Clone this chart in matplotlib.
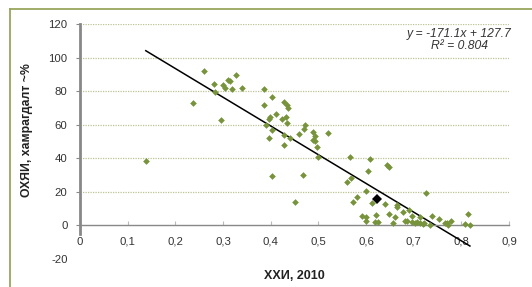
import matplotlib
matplotlib.use("Agg")
import matplotlib.pyplot as plt
import numpy as np
from matplotlib.lines import Line2D

plt.rcParams['font.family'] = ['Liberation Sans', 'DejaVu Sans']

# ---- data ----
hdi = [0.138, 0.238, 0.261, 0.281, 0.284, 0.295, 0.299, 0.305, 0.310, 0.314,
       0.318, 0.328, 0.340, 0.386, 0.385, 0.390, 0.403, 0.396, 0.399, 0.428,
       0.435, 0.436, 0.412, 0.423, 0.432, 0.434, 0.403, 0.397, 0.428, 0.440,
       0.428, 0.460, 0.471, 0.470, 0.489, 0.494, 0.489, 0.492, 0.497, 0.499,
       0.520, 0.402, 0.468, 0.451, 0.567, 0.608, 0.644, 0.649, 0.568, 0.561,
       0.605, 0.601, 0.582, 0.573, 0.612, 0.640, 0.665, 0.666, 0.690, 0.678,
       0.725, 0.648, 0.660, 0.621, 0.591, 0.600, 0.600, 0.619, 0.626, 0.656,
       0.682, 0.686, 0.697, 0.697, 0.702, 0.706, 0.714, 0.714, 0.719, 0.722,
       0.738, 0.735, 0.753, 0.766, 0.770, 0.771, 0.778, 0.815, 0.808, 0.818]
coverage = [38.1, 72.8, 92.1, 84.1, 79.4, 62.7, 83.5, 82.0, 86.7, 85.9,
            81.0, 89.5, 82.0, 81.0, 71.8, 59.9, 76.8, 63.5, 64.5, 73.5,
            71.5, 70.0, 66.5, 63.2, 64.5, 61.3, 57.0, 51.9, 54.0, 52.0,
            47.7, 54.3, 60.1, 57.3, 55.4, 53.4, 51.0, 50.4, 47.0, 40.8,
            54.9, 29.2, 29.9, 13.9, 40.6, 39.4, 35.9, 34.9, 28.4, 25.6,
            32.3, 20.4, 16.9, 14.1, 13.3, 12.5, 11.9, 10.7, 9.1, 8.2,
            19.6, 7.1, 5.2, 6.1, 5.5, 4.8, 2.8, 2.0, 2.0, 1.4,
            2.6, 2.6, 5.5, 1.8, 1.2, 1.8, 5.0, 1.2, 0.6, 1.2,
            5.5, 0.2, 3.8, 1.6, 1.2, 0.2, 2.8, 7.1, 0.8, 0.4]
highlight_x = [0.624]
highlight_y = [15.7]

slope = -171.1
intercept = 127.7
r2 = 0.804

x_ticks = [0, 0.1, 0.2, 0.3, 0.4, 0.5, 0.6, 0.7, 0.8, 0.9]
x_tick_labels = ['0', '0,1', '0,2', '0,3', '0,4', '0,5', '0,6', '0,7', '0,8', '0,9']
y_ticks = [-20, 0, 20, 40, 60, 80, 100, 120]
y_tick_labels = ['-20', '0', '20', '40', '60', '80', '100', '120']

x_label = 'ХХИ, 2010'
y_label = 'ОХЯИ, хамрагдалт ~%'

# ---- figure ----
W, H = 532, 287
fig = plt.figure(figsize=(W / 100, H / 100), dpi=100)
fig.patch.set_facecolor('white')

ax = fig.add_axes([80 / W, 1 - 259 / H, (509 - 80) / W, (259 - 24) / H])
ax.set_facecolor('none')
ax.set_xlim(0, 0.9)
ax.set_ylim(-20, 120)

# grid lines (dotted)
grid_levels = [v for v in y_ticks if v > 0]
ax.hlines(grid_levels, 0, 0.9, colors='#bcc494', linestyles=(0, (1, 1)), linewidth=0.9, zorder=1)

# scatter
ax.plot(hdi, coverage, linestyle='none', marker='D', markersize=3.4,
        color='#77933C', markeredgewidth=0, zorder=3)
ax.plot(highlight_x, highlight_y, linestyle='none', marker='D', markersize=5.5,
        color='black', markeredgewidth=0, zorder=4)

# trendline
xl = np.array([min(hdi), max(hdi)])
ax.plot(xl, slope * xl + intercept, color='black', linewidth=1.1, zorder=2)

# spines
for s in ['top', 'right']:
    ax.spines[s].set_visible(False)
ax.spines['bottom'].set_position(('data', 0))
ax.spines['bottom'].set_color('#888888')
ax.spines['bottom'].set_linewidth(1.0)
ax.spines['left'].set_color('#888888')
ax.spines['left'].set_linewidth(2.0)
ax.spines['left'].set_bounds(-5, 120)

ax.set_xticks(x_ticks)
ax.set_xticklabels(x_tick_labels)
ax.set_yticks(y_ticks)
ax.set_yticklabels(y_tick_labels)
ax.tick_params(axis='x', direction='in', length=3, width=0.8, color='#bbbbbb',
               pad=8, labelsize=8.2, labelcolor='#333333')
ax.tick_params(axis='y', direction='out', length=3, width=0.8, color='#888888',
               pad=6, labelsize=8.2, labelcolor='#333333')
ax.yaxis.get_major_ticks()[0].tick1line.set_visible(False)

# equation text
ax.text(459.5 / W, 1 - 40 / H, 'y = -171.1x + 127.7\nR² = 0.804', transform=fig.transFigure,
        ha='center', va='center', fontsize=8.7, style='italic', color='#333333',
        linespacing=1.1)

# axis labels
fig.text(294.5 / W, 1 - 276 / H, x_label, ha='center', va='center',
         fontsize=9, fontweight='bold', color='#222222')
fig.text(27 / W, 1 - 130 / H, y_label, ha='center', va='center', rotation=90,
         fontsize=8.8, fontweight='bold', color='#222222')

# outer chart border (left and top visible)
border_color = '#98a65c'
fig.add_artist(Line2D([9.5 / W, 9.5 / W], [0, 1 - 8.5 / H], transform=fig.transFigure,
                      color=border_color, linewidth=1.3))
fig.add_artist(Line2D([9.5 / W, 1], [1 - 8.5 / H, 1 - 8.5 / H], transform=fig.transFigure,
                      color=border_color, linewidth=1.3))

fig.savefig('out.png', dpi=100)
